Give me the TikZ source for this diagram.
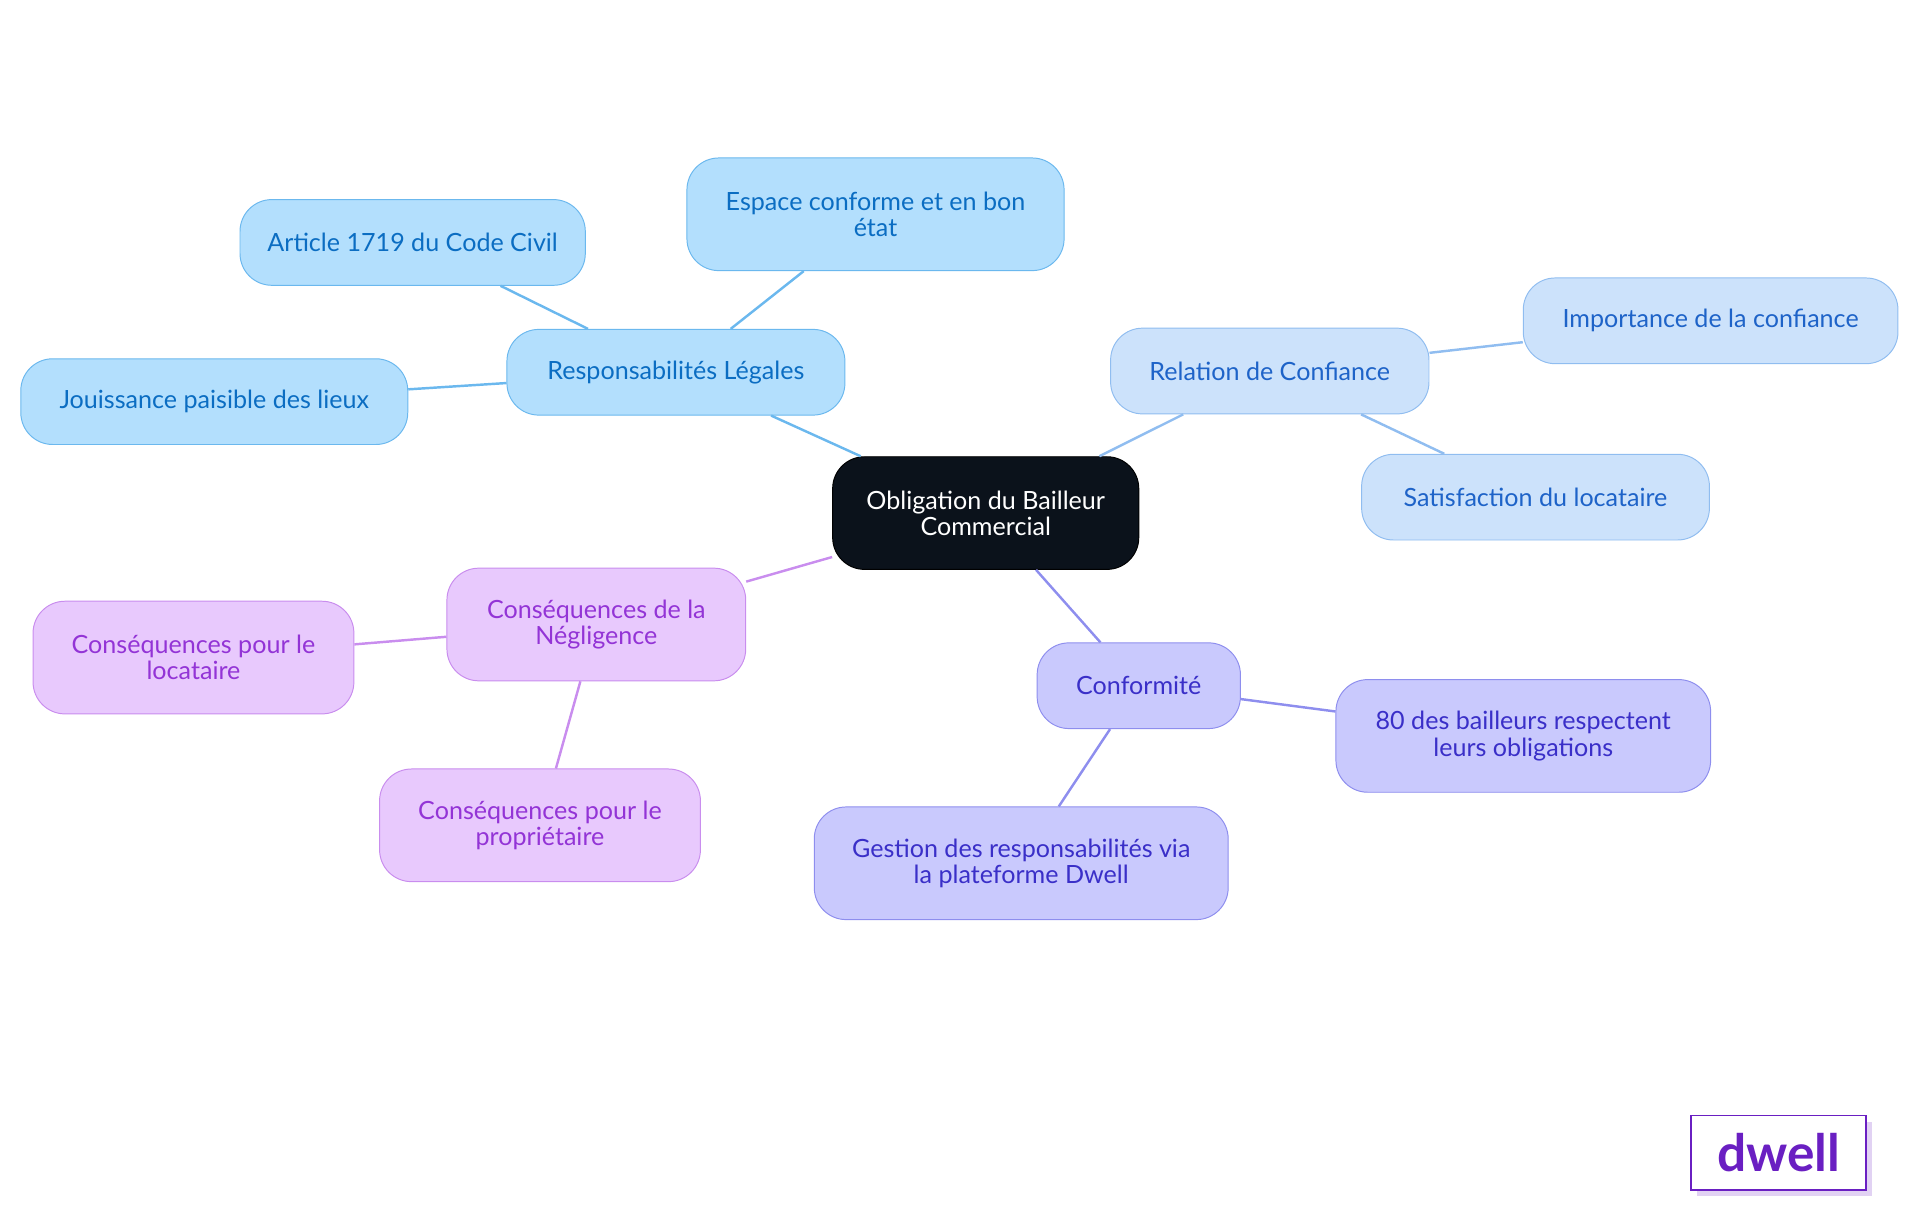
\documentclass[tikz,border=0pt]{standalone}
\usepackage{fontspec}
\setmainfont{Lato}
\begin{document}
\begin{tikzpicture}[x=1pt,y=-1pt,
 base/.style={rounded corners=26pt,align=center,font=\fontsize{20.5}{21.5}\selectfont,inner sep=0pt,line width=0.8pt},
 blue/.style={base,fill=cB,draw=sB,text=tB},
 lblue/.style={base,fill=cL,draw=sL,text=tL},
 vio/.style={base,fill=cV,draw=sV,text=tV},
 pur/.style={base,fill=cP,draw=sP,text=tP},
 e/.style={line width=2pt}]
\definecolor{cB}{HTML}{B3DFFD}\definecolor{sB}{HTML}{6BB8EE}\definecolor{tB}{HTML}{0B6DC2}
\definecolor{cL}{HTML}{CCE2FB}\definecolor{sL}{HTML}{90BDF0}\definecolor{tL}{HTML}{1E63C8}
\definecolor{cV}{HTML}{C9C9FD}\definecolor{sV}{HTML}{8E8EEE}\definecolor{tV}{HTML}{3A2FC8}
\definecolor{cP}{HTML}{E8C9FD}\definecolor{sP}{HTML}{C98DEE}\definecolor{tP}{HTML}{9334D6}
\definecolor{lg}{HTML}{6A1FC2}
\useasboundingbox (0,0) rectangle (1568,990);
\node[base,fill={rgb,255:red,11;green,18;blue,27},draw=black,text=white,minimum width=250pt,minimum height=92pt] (c) at (805,419) {Obligation du Bailleur\\Commercial};
\node[blue,minimum width=276pt,minimum height=70pt] (r) at (552,304) {Responsabilités Légales};
\node[blue,minimum width=282pt,minimum height=70pt] (a) at (337,198) {Article 1719 du Code Civil};
\node[blue,minimum width=308pt,minimum height=92pt] (es) at (715,175) {Espace conforme et en bon\\état};
\node[blue,minimum width=316pt,minimum height=70pt] (j) at (175,328) {Jouissance paisible des lieux};
\node[lblue,minimum width=260pt,minimum height=70pt] (rc) at (1037,303) {Relation de Confiance};
\node[lblue,minimum width=306pt,minimum height=70pt] (i) at (1397,262) {Importance de la confiance};
\node[lblue,minimum width=284pt,minimum height=70pt] (s) at (1254,406) {Satisfaction du locataire};
\node[vio,minimum width=166pt,minimum height=70pt] (co) at (930,560) {Conformité};
\node[vio,minimum width=306pt,minimum height=92pt] (q) at (1244,601) {80 des bailleurs respectent\\leurs obligations};
\node[vio,minimum width=338pt,minimum height=92pt] (g) at (834,705) {Gestion des responsabilités via\\la plateforme Dwell};
\node[pur,minimum width=244pt,minimum height=92pt] (n) at (487,510) {Conséquences de la\\Négligence};
\node[pur,minimum width=262pt,minimum height=92pt] (l) at (158,537) {Conséquences pour le\\locataire};
\node[pur,minimum width=262pt,minimum height=92pt] (p) at (441,674) {Conséquences pour le\\propriétaire};
\draw[e,sB] (c) -- (r); \draw[e,sB] (r) -- (a); \draw[e,sB] (r) -- (es); \draw[e,sB] (r) -- (j);
\draw[e,sL] (c) -- (rc); \draw[e,sL] (rc) -- (i); \draw[e,sL] (rc) -- (s);
\draw[e,sV] (c) -- (co); \draw[e,sV] (co) -- (q); \draw[e,sV] (co) -- (g);
\draw[e,sP] (c) -- (n); \draw[e,sP] (n) -- (l); \draw[e,sP] (n) -- (p);
\fill[lg!20] (1386,916) rectangle (1529,977);
\node[draw=lg,fill=white,line width=1.5pt,minimum width=143pt,minimum height=61pt,text=lg,font=\fontsize{42}{44}\selectfont\bfseries,inner sep=0pt] (logo) at (1452.5,941.5) {dwell};
\end{tikzpicture}
\end{document}
